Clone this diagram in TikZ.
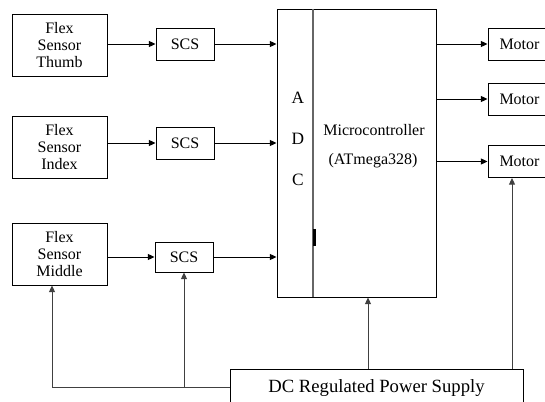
\documentclass[tikz,border=0pt]{standalone}
\usepackage{fontspec}
\setmainfont{Liberation Serif}
\usetikzlibrary{
    arrows.meta,
    calc,
    positioning
}
\tikzset{
    block/.style={draw, line width=0.7pt, align=center, inner sep=0pt,
        font=\fontsize{12}{13}\selectfont},
    flow/.style={line width=0.7pt, -{Triangle[length=5pt,width=4.5pt]}},
    feed/.style={flow, draw=black!75}
}

\begin{document}
\begin{tikzpicture}[x=0.75pt, y=-0.75pt, >=Stealth]
    \clip (0,0) rectangle (545,402);
    \node[block, minimum width=71.25pt, minimum height=46.5pt] (thumb) at (59.5,45) {Flex\\Sensor\\Thumb};
    \node[block, minimum width=71.25pt, minimum height=46.5pt] (index) at (59.5,147) {Flex\\Sensor\\Index};
    \node[block, minimum width=71.25pt, minimum height=46.5pt] (middle) at (59.5,254) {Flex\\Sensor\\Middle};
    \node[block, minimum width=43.5pt, minimum height=24pt] (scsA) at (185,44) {SCS};
    \node[block, minimum width=43.5pt, minimum height=24pt] (scsB) at (185,143) {SCS};
    \node[block, minimum width=43.5pt, minimum height=22.5pt] (scsC) at (184,257) {SCS};
    \node[block, minimum width=119.25pt, minimum height=216pt] (mcu) at (356.5,153) {};
    \draw[black!60, line width=0.9pt] (313,9) -- (313,297);
    \draw[line width=2.2pt] (314.5,229) -- (314.5,246);
    \node[font=\fontsize{13}{13}\selectfont] (adcA) at (298,98) {A};
    \node[font=\fontsize{13}{13}\selectfont] (adcD) at (298,139) {D};
    \node[font=\fontsize{13}{13}\selectfont] (adcC) at (298,180) {C};
    \node[font=\fontsize{12}{13}\selectfont] (mcname) at (374,130) {Microcontroller};
    \node[font=\fontsize{12}{13}\selectfont] (mcchip) at (373,161) {(ATmega328)};
    \node[block, minimum width=47.25pt, minimum height=24pt] (motA) at (519.5,44) {Motor};
    \node[block, minimum width=47.25pt, minimum height=24pt] (motB) at (519.5,99) {Motor};
    \node[block, minimum width=47.25pt, minimum height=24pt] (motC) at (519.5,161.5) {Motor};
    \node[block, minimum width=219.75pt, minimum height=28.5pt, font=\fontsize{14}{14}\selectfont] (psu) at (376.5,388) {\raisebox{3pt}{DC Regulated Power Supply}};
    % sensor chain
    \draw[flow] (thumb.east |- scsA) -- (scsA);
    \draw[flow] (index.east |- scsB) -- (scsB);
    \draw[flow] (middle.east |- scsC) -- (scsC);
    \draw[flow] (scsA) -- (scsA -| mcu.west);
    \draw[flow] (scsB) -- (scsB -| mcu.west);
    \draw[flow] (scsC) -- (scsC -| mcu.west);
    \draw[flow] (mcu.east |- motA) -- (motA);
    \draw[flow] (mcu.east |- motB) -- (motB);
    \draw[flow] (mcu.east |- motC) -- (motC);
    % power lines
    \coordinate (pwrL) at (52,387);
    \coordinate (pwrM) at (368,0);
    \coordinate (pwrR) at (512,0);
    \draw[feed] (psu.west |- pwrL) -- (pwrL) -- (pwrL |- middle.south);
    \draw[feed] (scsC.south |- pwrL) -- (scsC.south);
    \draw[feed] (psu.north -| pwrM) -- (pwrM |- mcu.south);
    \draw[feed] (psu.north -| pwrR) -- (pwrR |- motC.south);
\end{tikzpicture}
\end{document}
